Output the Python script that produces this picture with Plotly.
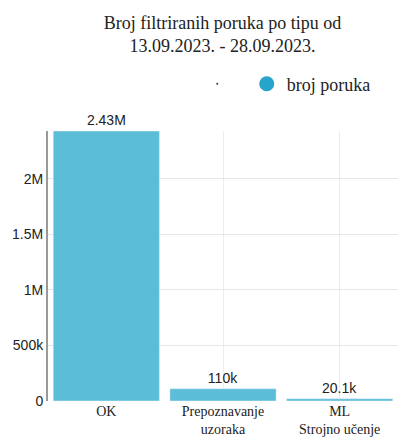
import plotly.graph_objects as go

categories = ["OK", "Prepoznavanje<br>uzoraka", "ML<br>Strojno učenje"]
values = [2430000, 110000, 20100]
series_name = "broj poruka"
title_text = "Broj filtriranih poruka po tipu od<br>13.09.2023. - 28.09.2023."

SERIF = "'Times New Roman', 'Liberation Serif', serif"
SANS = "Arial, 'Liberation Sans', sans-serif"

fig = go.Figure()
fig.add_trace(go.Bar(
    x=categories, y=values, marker_color="#5bbdd8",
    texttemplate="%{y:.3s}", textposition="outside",
    textfont=dict(family=SANS, size=14, color="#222"),
    cliponaxis=False, showlegend=False, name=series_name,
))
# legend entries
fig.add_trace(go.Scatter(x=[None], y=[None], mode="markers", name=" ",
                         marker=dict(size=2, color="#333")))
fig.add_trace(go.Scatter(x=[None], y=[None], mode="markers", name=series_name,
                         marker=dict(size=15, color="#27a4cc")))

fig.update_layout(
    width=401, height=442,
    margin=dict(l=48, r=3, t=131, b=41),
    paper_bgcolor="white", plot_bgcolor="white",
    bargap=0.09,
    title=dict(text=title_text, x=0.555, xanchor="center", yref="container", y=0.935, yanchor="top",
               font=dict(family=SERIF, size=18, color="#222")),
    legend=dict(orientation="h", x=0.935, xanchor="right", y=1.174, yanchor="middle",
                font=dict(family=SERIF, size=18, color="#222"),
                itemwidth=30, bgcolor="rgba(0,0,0,0)"),
    xaxis=dict(showgrid=True, gridcolor="#ececec", tickfont=dict(family=SERIF, size=14, color="#222"),
               ticks="", zeroline=False),
    yaxis=dict(range=[0, 2430000], showgrid=True, gridcolor="#e6e6e6",
               tickvals=[0, 500000, 1000000, 1500000, 2000000],
               tickfont=dict(family=SANS, size=14, color="#222"),
               showline=True, linecolor="#999", linewidth=2, zeroline=False, ticks=""),
)
fig.write_html("out.html")
